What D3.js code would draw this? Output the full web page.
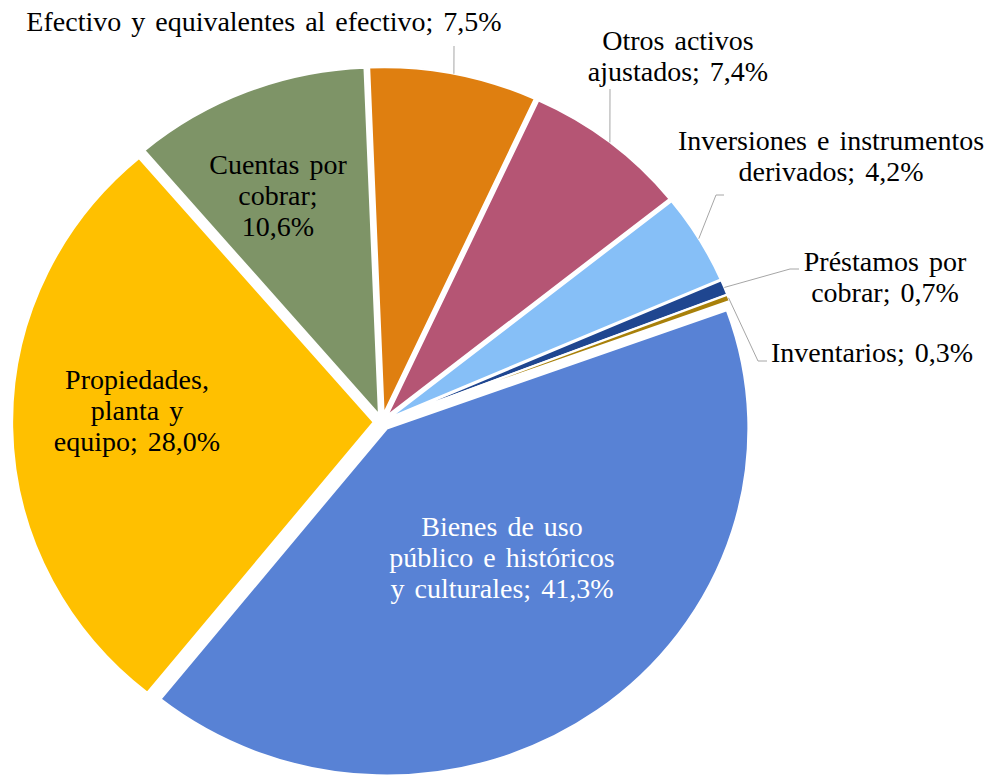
<!DOCTYPE html>
<html>
<head>
<meta charset="utf-8">
<script src="https://cdn.jsdelivr.net/npm/d3@7"></script>
<style>
  body { margin: 0; background: #fff; }
  svg { display: block; }
  text { font-family: "Liberation Serif", "Times New Roman", serif; font-size: 28px; word-spacing: 3px; }
</style>
</head>
<body>
<svg id="chart" width="991" height="775"></svg>
<script>
// slices, clockwise from the top
const categories = [
  "Efectivo y equivalentes al efectivo",
  "Otros activos ajustados",
  "Inversiones e instrumentos derivados",
  "Préstamos por cobrar",
  "Inventarios",
  "Bienes de uso público e históricos y culturales",
  "Propiedades, planta y equipo",
  "Cuentas por cobrar"
];
const values = [7.5, 7.4, 4.2, 0.7, 0.3, 41.3, 28.0, 10.6];
const colors = ["#df7f10", "#b55574", "#86bff7", "#1f4690", "#a8800a", "#5882d5", "#ffc000", "#7e9467"];

// words per line of each label, and where it sits
const wordsPerLine = [[10], [2, 2], [3, 2], [2, 2], [2], [3, 3, 3], [1, 2, 2], [2, 1, 1]];
const labelPos = [
  { x: 264, y: 31, leader: [[454, 46]] },
  { x: 678, y: 50, leader: [[610, 89]] },
  { x: 831, y: 150, leader: [[716, 195], [724, 195]] },
  { x: 885, y: 271, leader: [[790, 269], [799, 269]] },
  { x: 872, y: 362, leader: [[758, 361], [767, 361]] },
  { x: 502, y: 536, fill: "#fff" },
  { x: 137, y: 389 },
  { x: 278, y: 174 }
];

const cx = 382, cy = 422, r = 347, sx = 1.042, explode = 8, lineH = 31;

const fmt = d3.formatLocale({ decimal: ",", thousands: ".", grouping: [3], currency: ["", ""] }).format(".1f");

const svg = d3.select("#chart");

const pie = d3.pie().sort(null).value(d => d)
  .startAngle(-0.04).endAngle(2 * Math.PI - 0.04);
const arcs = pie(values);
const arc = d3.arc().innerRadius(0).outerRadius(r);

const g = svg.append("g").attr("transform", `translate(${cx},${cy}) scale(${sx},1)`);

g.selectAll("path")
  .data(arcs)
  .enter()
  .append("path")
  .attr("transform", d => {
    const a = (d.startAngle + d.endAngle) / 2;
    return `translate(${explode * Math.sin(a)},${-explode * Math.cos(a)})`;
  })
  .attr("d", arc)
  .attr("fill", (d, i) => colors[i])
  .attr("stroke", "#fff")
  .attr("stroke-width", 2);

// point on the outer edge at the middle of a slice, in page coordinates
const edgePoint = d => {
  const a = (d.startAngle + d.endAngle) / 2;
  return [cx + (r + explode) * Math.sin(a) * sx, cy - (r + explode) * Math.cos(a)];
};

arcs.forEach((d, i) => {
  const pos = labelPos[i];
  if (pos.leader) {
    svg.append("path")
      .attr("d", d3.line()([edgePoint(d), ...pos.leader]))
      .attr("fill", "none")
      .attr("stroke", "#a6a6a6")
      .attr("stroke-width", 1);
  }
  const words = (categories[i] + "; " + fmt(values[i]) + "%").split(" ");
  const lines = [];
  let k = 0;
  wordsPerLine[i].forEach(n => { lines.push(words.slice(k, k + n).join(" ")); k += n; });
  if (k < words.length) lines[lines.length - 1] += " " + words.slice(k).join(" ");
  const t = svg.append("text")
    .attr("text-anchor", "middle")
    .attr("fill", pos.fill || "#000");
  lines.forEach((s, j) => {
    t.append("tspan").attr("x", pos.x).attr("y", pos.y + j * lineH).text(s);
  });
});
</script>
</body>
</html>
